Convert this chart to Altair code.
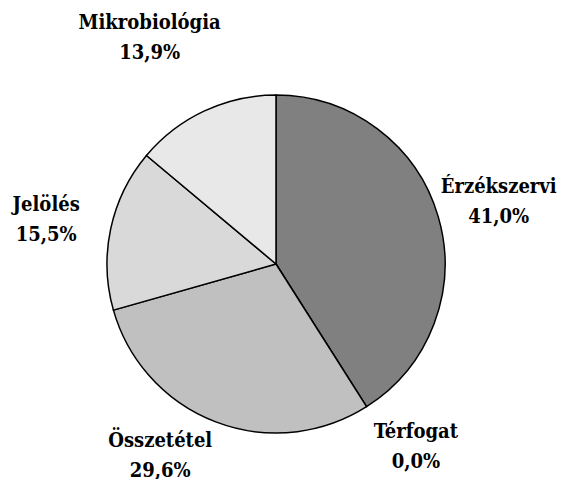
import altair as alt
import pandas as pd

categories = ["Érzékszervi", "Térfogat", "Összetétel", "Jelölés", "Mikrobiológia"]
values = [41.0, 0.0, 29.6, 15.5, 13.9]
colors = ["#808080", "#a0a0a0", "#c0c0c0", "#d9d9d9", "#e8e8e8"]

# label nudges (dx, dy) to mimic the original's outside label placement
label_nudge = {
    "Érzékszervi": (-3, 4),
    "Térfogat": (14, -15),
    "Összetétel": (-32, -28),
    "Jelölés": (0, 5),
    "Mikrobiológia": (-27, -13),
}

df = pd.DataFrame({"cat": categories, "v": values, "i": list(range(len(categories)))})

CX, CY, R = 268, 256, 169

base = alt.Chart(df).encode(
    theta=alt.Theta("v:Q", stack=True),
    order=alt.Order("i:Q"),
)

arcs = base.mark_arc(stroke="black", strokeWidth=1.5, outerRadius=R).encode(
    color=alt.Color("cat:N", scale=alt.Scale(domain=categories, range=colors), legend=None),
    x=alt.value(CX),
    y=alt.value(CY),
)

layers = [arcs]
for cat in categories:
    ndx, ndy = label_nudge[cat]
    layers.append(
        base.transform_calculate(
            label="datum.cat + '\\n' + replace(format(datum.v, '.1f'), '.', ',') + '%'",
            show=f"datum.cat == '{cat}' ? datum.label : ''",
        ).mark_text(
            radius=235, fontWeight="bold", fontSize=20,
            lineHeight=30, align="center", baseline="middle", lineBreak="\n",
            color="black", dx=ndx, dy=-15 + ndy,
        ).encode(
            text="show:N",
            x=alt.value(CX),
            y=alt.value(CY),
        )
    )

chart = alt.layer(*layers).properties(
    width=549, height=471, padding=0, background="white",
    autosize=alt.AutoSizeParams(type="none")
).configure_view(stroke=None, strokeWidth=0).configure_text(font="DejaVu Serif Condensed, DejaVu Serif")

chart.save("out.html", embed_options={"renderer": "svg", "actions": False})
